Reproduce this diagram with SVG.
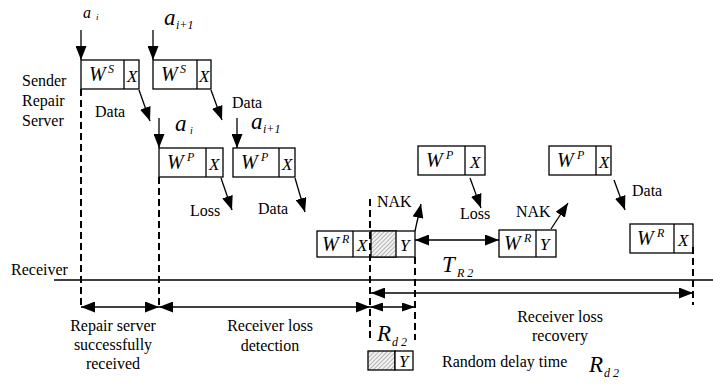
<svg xmlns="http://www.w3.org/2000/svg" width="713" height="389" viewBox="0 0 713 389">
<style>
.box{fill:#fff;stroke:#000;stroke-width:1.3}
.ln{stroke:#000;stroke-width:1.3;fill:none}
.dash{stroke:#000;stroke-width:2;stroke-dasharray:7,4;fill:none}
.t{font-family:"Liberation Serif",serif;font-size:16px;fill:#000}
.w{font-family:"Liberation Serif",serif;font-style:italic;font-size:20px;fill:#000}
.sup{font-family:"Liberation Serif",serif;font-style:italic;font-size:12px;fill:#000}
.x{font-family:"Liberation Serif",serif;font-style:italic;font-size:17px;fill:#000}
.big{font-family:"Liberation Serif",serif;font-style:italic;font-size:23px;fill:#000}
.sub{font-family:"Liberation Serif",serif;font-style:italic;font-size:12px;fill:#000}
</style>
<defs>
<marker id="ah" markerUnits="userSpaceOnUse" markerWidth="14" markerHeight="11" refX="14" refY="5.5" orient="auto-start-reverse"><path d="M0,0 L14,5.5 L0,11 z" fill="#000"/></marker>
<marker id="as" markerUnits="userSpaceOnUse" markerWidth="13" markerHeight="9" refX="13" refY="4.5" orient="auto-start-reverse"><path d="M0,0 L13,4.5 L0,9 z" fill="#000"/></marker>
<pattern id="hatch" patternUnits="userSpaceOnUse" width="3" height="3" patternTransform="rotate(45)"><rect width="3" height="3" fill="#f2f2f2"/><line x1="0" y1="0" x2="0" y2="3" stroke="#777" stroke-width="1"/></pattern>
</defs>

<g id="labels">
<text class="t" x="22" y="86">Sender</text>
<text class="t" x="22" y="106">Repair</text>
<text class="t" x="22" y="126">Server</text>
<text class="t" x="11" y="275">Receiver</text>
</g>

<g id="sender1">
<rect class="box" x="81" y="60" width="58" height="29"/>
<line class="ln" x1="124" y1="60" x2="124" y2="89"/>
<text class="w" x="89" y="81">W</text><text class="sup" x="108" y="73">S</text>
<text class="x" x="127" y="82">X</text>
</g>
<g id="sender2">
<rect class="box" x="153" y="60" width="58" height="29"/>
<line class="ln" x1="197" y1="60" x2="197" y2="89"/>
<text class="w" x="161" y="81">W</text><text class="sup" x="180" y="73">S</text>
<text class="x" x="199" y="82">X</text>
</g>

<g id="repair1">
<rect class="box" x="159" y="148" width="64" height="29"/>
<line class="ln" x1="206" y1="148" x2="206" y2="177"/>
<text class="w" x="167" y="169">W</text><text class="sup" x="187" y="161">P</text>
<text class="x" x="209" y="170">X</text>
</g>
<g id="repair2">
<rect class="box" x="233" y="148" width="62" height="29"/>
<line class="ln" x1="279" y1="148" x2="279" y2="177"/>
<text class="w" x="241" y="169">W</text><text class="sup" x="261" y="161">P</text>
<text class="x" x="282" y="170">X</text>
</g>
<g id="repair3">
<rect class="box" x="418" y="146" width="67" height="29"/>
<line class="ln" x1="465" y1="146" x2="465" y2="175"/>
<text class="w" x="426" y="167">W</text><text class="sup" x="446" y="159">P</text>
<text class="x" x="470" y="168">X</text>
</g>
<g id="repair4">
<rect class="box" x="549" y="146" width="62" height="29"/>
<line class="ln" x1="596" y1="146" x2="596" y2="175"/>
<text class="w" x="557" y="167">W</text><text class="sup" x="577" y="159">P</text>
<text class="x" x="599" y="168">X</text>
</g>

<g id="receiver1">
<rect class="box" x="317" y="231" width="98" height="26"/>
<rect x="371" y="231" width="25" height="26" fill="url(#hatch)" stroke="#000" stroke-width="1.3"/>
<line class="ln" x1="353" y1="231" x2="353" y2="257"/>
<text class="w" x="322" y="251">W</text><text class="sup" x="342" y="243">R</text>
<text class="x" x="357" y="251">X</text>
<text class="x" x="400" y="251">Y</text>
</g>
<g id="receiver2">
<rect class="box" x="499" y="230" width="57" height="27"/>
<line class="ln" x1="536" y1="230" x2="536" y2="257"/>
<text class="w" x="504" y="250">W</text><text class="sup" x="524" y="242">R</text>
<text class="x" x="540" y="250">Y</text>
</g>
<g id="receiver3">
<rect class="box" x="630" y="224" width="63" height="29"/>
<line class="ln" x1="674" y1="224" x2="674" y2="253"/>
<text class="w" x="637" y="245">W</text><text class="sup" x="657" y="237">R</text>
<text class="x" x="678" y="246">X</text>
</g>

<g id="legend">
<rect x="368" y="351" width="27" height="19" fill="url(#hatch)" stroke="#000" stroke-width="1.3"/>
<rect class="box" x="395" y="351" width="18" height="19"/>
<text class="x" x="399" y="367">Y</text>
<text class="t" x="442" y="367">Random delay time</text>
<text class="big" x="589" y="372">R</text><text class="sub" x="604" y="377">d 2</text>
</g>

<g id="connectors">
<line class="ln" x1="81" y1="30" x2="81" y2="60" marker-end="url(#ah)"/>
<line class="ln" x1="153" y1="30" x2="153" y2="60" marker-end="url(#ah)"/>
<line class="ln" x1="159" y1="118" x2="159" y2="148" marker-end="url(#ah)"/>
<line class="ln" x1="237" y1="118" x2="237" y2="148" marker-end="url(#ah)"/>
<line class="ln" x1="139" y1="90" x2="150" y2="121" marker-end="url(#ah)"/>
<line class="ln" x1="211" y1="90" x2="222" y2="120" marker-end="url(#ah)"/>
<line class="ln" x1="221" y1="178" x2="232" y2="210" marker-end="url(#ah)"/>
<line class="ln" x1="295" y1="178" x2="305" y2="212" marker-end="url(#ah)"/>
<line class="ln" x1="470" y1="178" x2="481" y2="208" marker-end="url(#ah)"/>
<line class="ln" x1="614" y1="180" x2="625" y2="210" marker-end="url(#ah)"/>
<line class="ln" x1="415" y1="231" x2="421" y2="204" marker-end="url(#ah)"/>
<line class="ln" x1="551" y1="229" x2="568" y2="203" marker-end="url(#ah)"/>
<line class="ln" x1="415" y1="240" x2="499" y2="240" marker-start="url(#ah)" marker-end="url(#ah)"/>

<line class="ln" x1="54" y1="280" x2="713" y2="280"/>
<line class="dash" x1="81" y1="89" x2="81" y2="308"/>
<line class="dash" x1="159" y1="177" x2="159" y2="308"/>
<line class="dash" x1="370" y1="199" x2="370" y2="340"/>
<line class="dash" x1="415" y1="257" x2="415" y2="340"/>
<line class="dash" x1="693" y1="247" x2="693" y2="305"/>

<line class="ln" x1="81" y1="307" x2="159" y2="307" marker-start="url(#ah)" marker-end="url(#ah)"/>
<line class="ln" x1="159" y1="307" x2="370" y2="307" marker-start="url(#ah)" marker-end="url(#ah)"/>
<line class="ln" x1="370" y1="307" x2="415" y2="307" marker-start="url(#as)" marker-end="url(#as)"/>
<line class="ln" x1="371" y1="293" x2="693" y2="293" marker-start="url(#ah)" marker-end="url(#ah)"/>
</g>

<g id="texts">
<text class="t" x="83" y="18" style="font-style:italic">a</text><text class="sub" x="96" y="20" style="font-size:9px">i</text>
<text class="big" x="164" y="25">a</text><text class="sub" x="176" y="29">i+1</text>
<text class="big" x="175" y="131">a</text><text class="sub" x="190" y="134" style="font-size:10px">i</text>
<text class="big" x="251" y="129">a</text><text class="sub" x="263" y="133">i+1</text>
<text class="t" x="95" y="117">Data</text>
<text class="t" x="232" y="108">Data</text>
<text class="t" x="190" y="216">Loss</text>
<text class="t" x="258" y="214">Data</text>
<text class="t" x="460" y="219">Loss</text>
<text class="t" x="632" y="196">Data</text>
<text class="t" x="377" y="207">NAK</text>
<text class="t" x="516" y="217">NAK</text>
<text class="big" x="442" y="272">T</text><text class="sub" x="457" y="277">R 2</text>
<text class="big" x="377" y="341">R</text><text class="sub" x="392" y="346">d 2</text>
<text class="t" x="113" y="331" text-anchor="middle">Repair server</text>
<text class="t" x="113" y="350" text-anchor="middle">successfully</text>
<text class="t" x="113" y="369" text-anchor="middle">received</text>
<text class="t" x="270" y="331" text-anchor="middle">Receiver loss</text>
<text class="t" x="270" y="351" text-anchor="middle">detection</text>
<text class="t" x="560" y="322" text-anchor="middle">Receiver loss</text>
<text class="t" x="560" y="341" text-anchor="middle">recovery</text>
</g>
</svg>
